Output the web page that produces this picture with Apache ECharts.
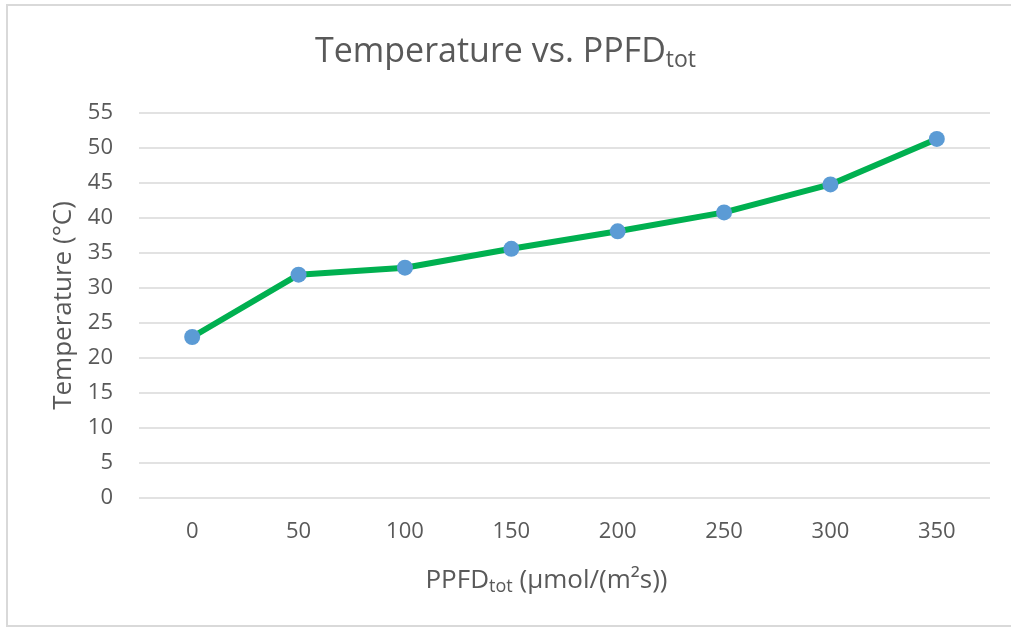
<!DOCTYPE html>
<html>
<head>
	<meta charset="UTF-8">
	<title>Temperature vs. PPFD</title>
	<style>
		html, body { margin: 0; padding: 0; background: #fff; }
		#chart { width: 1011px; height: 628px; }
	</style>
</head>
<body>
	<div id="chart"></div>
</body>
<script src="https://cdn.jsdelivr.net/npm/echarts@6/dist/echarts.min.js"></script>
<script>
var ppfd = ['0', '50', '100', '150', '200', '250', '300', '350'];
var temperature = [23.0, 31.9, 32.9, 35.6, 38.1, 40.8, 44.8, 51.3];
var yTicks = { min: 0, max: 55, step: 5 };

var textColor = '#595959';
var fontName = '"Open Sans", Lato, sans-serif';

var chart = echarts.init(document.getElementById('chart'));

var option = {
    backgroundColor: '#fff',
    textStyle: { fontFamily: fontName },
    title: {
        text: '{main|Temperature vs. PPFD}{sub|tot}',
        left: 'center',
        top: 27,
        padding: [5, 5, 5, 19],
        textStyle: {
            fontWeight: 'normal',
            rich: {
                main: { fontSize: 34, color: textColor, fontFamily: fontName, fontWeight: 'normal' },
                sub: { fontSize: 23, color: textColor, fontFamily: fontName, fontWeight: 'normal', padding: [17, 0, 0, 0] }
            }
        }
    },
    // light frame like the office chart border
    graphic: [{
        type: 'polyline',
        shape: { points: [[1011, 5], [7, 5], [7, 626], [1011, 626]] },
        style: { stroke: '#d9d9d9', lineWidth: 2, fill: null },
        silent: true
    }],
    grid: {
        left: 139,
        right: 21,
        top: 113,
        bottom: 130
    },
    xAxis: {
        type: 'category',
        data: ppfd,
        boundaryGap: true,
        name: '{main|PPFD}{sub|tot}{main| (µmol/(m²s))}',
        nameLocation: 'middle',
        nameGap: 68,
        nameTextStyle: {
            padding: [0, 36, 0, 0],
            rich: {
                main: { fontSize: 26, color: textColor, fontFamily: fontName },
                sub: { fontSize: 18, color: textColor, fontFamily: fontName, padding: [12, 0, 0, 0] }
            }
        },
        axisLine: { show: false },
        axisTick: { show: false },
        axisLabel: { color: textColor, fontSize: 22, margin: 23 }
    },
    yAxis: {
        type: 'value',
        min: yTicks.min,
        max: yTicks.max,
        interval: yTicks.step,
        name: 'Temperature (°C)',
        nameLocation: 'middle',
        nameGap: 60,
        nameTextStyle: { color: textColor, fontSize: 26 },
        axisLine: { show: false },
        axisTick: { show: false },
        axisLabel: { color: textColor, fontSize: 22, margin: 26 },
        splitLine: { lineStyle: { color: '#d9d9d9', width: 1.5 } }
    },
    series: [{
        name: 'Temperature',
        type: 'line',
        data: temperature,
        symbol: 'circle',
        symbolSize: 16,
        lineStyle: { color: '#00b050', width: 6 },
        itemStyle: { color: '#5b9bd5' },
        z: 3
    }]
};

chart.setOption(option);
</script>
</html>
